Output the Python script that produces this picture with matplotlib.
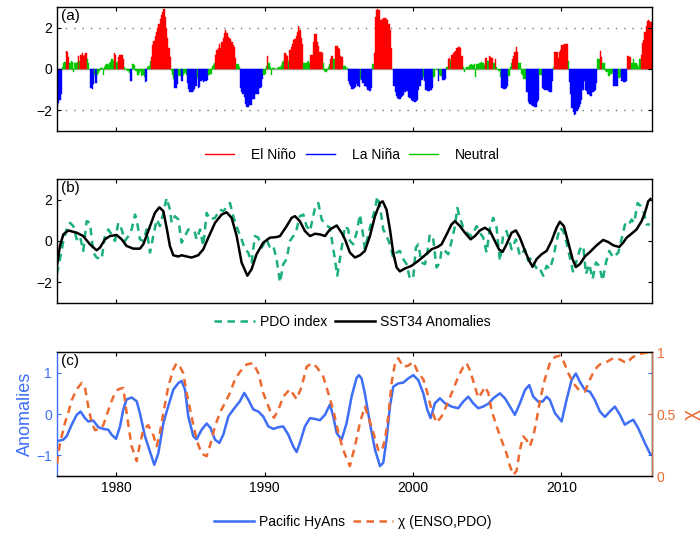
import numpy as np
import matplotlib
matplotlib.use("Agg")
import matplotlib.pyplot as plt
from matplotlib.lines import Line2D

plt.rcParams["font.family"] = ["Liberation Sans", "DejaVu Sans"]

# ---- (a) monthly Nino3.4 anomaly, one row per year from 1976 ----
FIRST_YEAR = 1976
nino34_monthly = [
    [-1.8, -1.65, -1.5, -1.2, 0.1, 0.3, 0.35, 0.85, 0.8, 0.6, 0.3, 0.4],
    [0.35, -0.15, 0.3, 0.3, 0.35, 0.65, 0.4, 0.7, 0.75, 0.65, 0.7, 0.75],
    [0.5, 0.3, 0.0, -0.9, -0.95, -0.75, -0.3, -0.7, -0.3, -0.2, -0.1, 0.05],
    [0.05, -0.3, 0.1, 0.2, 0.25, 0.2, 0.3, 0.35, 0.5, 0.4, 0.75, 0.7],
    [0.35, 0.6, 0.7, 0.7, 0.7, 0.5, 0.1, 0.0, -0.05, -0.1, -0.2, -0.6],
    [-0.6, 0.25, 0.2, -0.1, -0.1, -0.3, -0.2, -0.1, -0.35, -0.3, -0.4, -0.65],
    [-0.6, 0.1, 0.15, 0.4, 0.6, 1.15, 1.35, 1.6, 1.8, 2.0, 2.2, 2.4],
    [2.6, 2.75, 2.9, 2.5, 1.95, 1.5, 1.0, 0.6, -0.1, -0.3, -0.5, -0.9],
    [-0.9, -0.75, -0.3, -0.35, -0.6, -0.6, -0.3, -0.2, -0.3, -0.7, -0.95, -1.1],
    [-1.1, -1.1, -1.05, -0.95, -0.8, -0.45, -0.9, -0.85, -0.6, -0.55, -0.65, -0.6],
    [-0.6, -0.55, -0.3, -0.3, -0.25, 0.15, 0.2, 0.3, 0.7, 0.9, 1.0, 1.2],
    [1.0, 1.3, 1.5, 1.75, 1.9, 1.75, 1.55, 1.5, 1.45, 1.3, 1.15, 1.05],
    [0.55, 0.25, 0.25, 0.1, -0.9, -1.1, -1.2, -1.35, -1.7, -1.85, -1.85, -1.75],
    [-1.75, -1.75, -1.45, -1.45, -1.2, -1.2, -1.2, -0.9, -0.9, -0.85, -0.5, -0.3],
    [-0.25, 0.15, 0.65, 0.3, 0.1, -0.3, 0.05, 0.05, 0.0, 0.0, 0.05, 0.1],
    [0.1, 0.2, 0.35, 0.4, 0.75, 0.7, 0.65, 0.4, 0.9, 1.05, 1.2, 1.4],
    [1.45, 1.6, 1.8, 2.1, 1.9, 1.5, 1.2, 0.3, 0.3, 0.3, 0.35, 0.4],
    [0.3, 0.7, 0.7, 1.3, 1.7, 1.7, 1.3, 1.1, 0.8, 0.8, 0.75, 0.3],
    [-0.1, -0.15, -0.05, 0.1, 0.25, 0.5, 0.65, 0.5, 0.5, 1.1, 1.1, 1.0],
    [0.95, 0.65, 0.6, 0.15, 0.15, 0.15, 0.05, -0.6, -0.75, -0.8, -0.95, -0.95],
    [-0.9, -0.85, -0.75, -0.8, -0.85, -0.5, -0.55, -0.7, -0.8, -0.8, -0.85, -1.0],
    [-1.05, -1.05, -0.9, 0.25, 0.75, 2.5, 2.85, 2.9, 2.85, 2.35, 2.35, 2.4],
    [2.45, 2.45, 2.4, 2.35, 2.2, 1.9, 1.0, 0.0, -0.8, -1.1, -1.3, -1.4],
    [-1.45, -1.43, -1.35, -1.3, -1.25, -1.1, -1.05, -1.05, -1.35, -1.4, -1.5, -1.55],
    [-1.55, -1.6, -1.55, -1.5, -1.0, -0.8, -0.55, -0.55, -0.4, -0.6, -1.0, -1.05],
    [-1.05, -1.05, -1.0, -0.9, -0.4, -0.4, 0.0, -0.05, -0.6, -0.3, -0.35, -0.55],
    [-0.55, -0.55, -0.5, 0.1, 0.5, 0.55, 0.45, 0.7, 0.75, 0.8, 0.85, 1.0],
    [1.05, 1.05, 1.0, 0.65, 0.1, -0.15, 0.0, 0.1, 0.1, 0.2, 0.2, 0.25],
    [0.2, 0.25, -0.4, 0.25, 0.25, 0.3, 0.3, 0.35, 0.3, 0.2, 0.55, 0.55],
    [0.4, 0.65, 0.6, 0.55, 0.55, 0.3, 0.5, 0.1, 0.0, -0.1, -0.4, -0.9],
    [-0.9, -0.95, -0.95, -0.9, -0.8, -0.35, 0.1, 0.3, 0.5, 0.65, 0.8, 1.05],
    [0.8, 0.3, 0.3, -0.25, -0.3, -0.5, -0.5, -1.1, -1.1, -1.6, -1.7, -1.75],
    [-1.8, -1.8, -1.85, -1.85, -1.6, -1.5, -0.3, -0.3, -0.9, -0.95, -1.0, -1.0],
    [-1.0, -1.05, -1.1, -1.1, -0.6, 0.1, 0.8, 0.8, 0.8, 0.55, 0.8, 0.9],
    [1.15, 1.15, 1.2, 1.2, 1.2, 0.4, -0.65, -1.2, -1.9, -2.1, -2.25, -2.2],
    [-2.05, -1.95, -1.85, -1.7, -1.5, -1.0, -0.6, -1.0, -1.05, -1.2, -1.25, -1.3],
    [-1.3, -1.1, -1.05, -1.0, -0.7, 0.5, 0.5, 0.85, 0.6, 0.3, 0.3, -0.1],
    [-0.15, -0.15, -0.35, -0.25, -0.25, -0.2, -0.8, -0.8, -0.8, -0.8, -0.45, -0.4],
    [-0.6, -0.6, -0.65, -0.65, -0.6, 0.65, 0.65, 0.6, 0.3, 0.3, 0.5, 0.3],
    [0.3, 0.2, 0.1, 0.5, 0.7, 1.25, 1.4, 1.8, 2.1, 2.3, 2.35, 2.3],
    [2.25],
]
# E = El Nino, L = La Nina, N = neutral (same layout as above)
enso_phase = [
    "LLLLNNNEEENN", "NNNNNENEEEEE", "NNNLLLNLNNNN", "NNNNNNNNNNEE",
    "NEEEEENNNNNL", "LNNNNNNNNNNL", "LNNNEEEEEEEE", "EEEEEEEENNNL",
    "LLNNLLNNNLLL", "LLLLLNLLLLLL", "LLNNNNNNEEEE", "EEEEEEEEEEEE",
    "ENNNLLLLLLLL", "LLLLLLLLLLLN", "NNENNNNNNNNN", "NNNNEEENEEEE",
    "EEEEEEENNNNN", "NEEEEEEEEEEN", "NNNNNEENNEEE", "EEENNNNLLLLL",
    "LLLLLNLLLLLL", "LLLNEEEEEEEE", "EEEEEEENLLLL", "LLLLLLLLLLLL",
    "LLLLLLLLNLLL", "LLLLNNNNLNNL", "LLLNEENEEEEE", "EEEENNNNNNNN",
    "NNNNNNNNNNEE", "NEEEENENNNNL", "LLLLLNNNEEEE", "ENNNNNNLLLLL",
    "LLLLLLNNLLLL", "LLLLLNEEEEEE", "EEEEENLLLLLL", "LLLLLLLLLLLL",
    "LLLLLNNEENNN", "NNNNNNLLLLNN", "LLLLLEEENNNN", "NNNNEEEEEEEE",
    "E",
]
PHASE_COLORS = {"E": "#ff0000", "L": "#0000ff", "N": "#00c800"}

# ---- (b) SST34 anomalies (smoothed) and PDO index ----
sst_t = [1976.00, 1976.20, 1976.43, 1976.76, 1977.33, 1977.77, 1978.22, 1978.67, 1978.90, 1979.23,
         1979.57, 1980.02, 1980.36, 1980.69, 1981.14, 1981.59, 1981.82, 1982.15, 1982.60, 1982.90,
         1983.17, 1983.39, 1983.61, 1983.84, 1984.18, 1984.40, 1984.74, 1985.07, 1985.52, 1985.86,
         1986.20, 1986.65, 1987.10, 1987.43, 1987.77, 1988.11, 1988.44, 1988.83, 1989.12, 1989.45,
         1989.90, 1990.35, 1990.80, 1991.03, 1991.48, 1991.81, 1992.04, 1992.37, 1992.71, 1993.05,
         1993.39, 1993.72, 1994.06, 1994.40, 1994.85, 1995.18, 1995.41, 1995.74, 1996.08, 1996.42,
         1996.75, 1997.09, 1997.43, 1997.77, 1997.95, 1998.21, 1998.44, 1998.66, 1998.89, 1999.11,
         1999.45, 1999.90, 2000.35, 2000.80, 2001.25, 2001.70, 2001.92, 2002.26, 2002.59, 2002.82,
         2003.16, 2003.49, 2003.88, 2004.17, 2004.50, 2004.84, 2005.18, 2005.51, 2005.81, 2006.03,
         2006.30, 2006.64, 2006.93, 2007.20, 2007.54, 2007.83, 2008.05, 2008.32, 2008.66, 2009.00,
         2009.33, 2009.67, 2009.89, 2010.16, 2010.46, 2010.75, 2010.97, 2011.24, 2011.58, 2011.92,
         2012.37, 2012.81, 2013.15, 2013.49, 2013.89, 2014.16, 2014.39, 2014.72, 2015.06, 2015.40,
         2015.62, 2015.85, 2016.00]
sst_v = [-1.20, -0.24, 0.32, 0.51, 0.40, 0.24, -0.16, -0.45, -0.32, 0.08,
         0.24, 0.29, 0.08, -0.24, -0.37, -0.37, -0.16, 0.48, 1.36, 1.63,
         1.44, 0.64, -0.24, -0.69, -0.75, -0.69, -0.75, -0.80, -0.69, -0.40,
         0.16, 0.88, 1.28, 1.39, 1.12, 0.24, -1.04, -1.68, -1.36, -0.64,
         -0.08, 0.16, 0.19, 0.24, 0.72, 1.12, 1.20, 0.96, 0.48, 0.24,
         0.35, 0.32, 0.24, 0.56, 0.75, 0.40, 0.08, -0.56, -0.80, -0.69,
         -0.48, 0.24, 1.20, 1.84, 1.92, 1.52, 0.56, -0.56, -1.28, -1.47,
         -1.33, -1.20, -0.96, -0.69, -0.40, -0.27, -0.16, 0.32, 0.80, 0.96,
         0.72, 0.40, 0.08, 0.24, 0.51, 0.64, 0.48, 0.00, -0.43, -0.53,
         -0.16, 0.40, 0.51, 0.16, -0.48, -0.96, -1.25, -0.88, -0.64, -0.48,
         0.00, 0.64, 0.93, 0.72, -0.08, -0.88, -1.26, -1.12, -0.75, -0.53,
         -0.21, 0.05, -0.05, -0.21, -0.29, -0.08, 0.16, 0.35, 0.56, 0.96,
         1.36, 1.92, 2.03]

pdo_t = [1976.00, 1976.20, 1976.43, 1976.65, 1976.88, 1977.10, 1977.33, 1977.55, 1977.77, 1978.00,
         1978.22, 1978.45, 1978.67, 1979.01, 1979.23, 1979.46, 1979.68, 1979.91, 1980.13, 1980.36,
         1980.58, 1980.81, 1981.03, 1981.26, 1981.37, 1981.59, 1981.82, 1982.04, 1982.27, 1982.49,
         1982.72, 1982.94, 1983.17, 1983.39, 1983.61, 1983.73, 1983.95, 1984.18, 1984.40, 1984.63,
         1984.85, 1985.07, 1985.30, 1985.41, 1985.64, 1985.86, 1986.09, 1986.31, 1986.65, 1986.98,
         1987.21, 1987.66, 1987.88, 1988.22, 1988.44, 1988.67, 1988.89, 1989.12, 1989.34, 1989.57,
         1989.79, 1990.13, 1990.35, 1990.58, 1990.80, 1991.03, 1991.25, 1991.48, 1991.70, 1991.93,
         1992.15, 1992.37, 1992.60, 1992.82, 1993.05, 1993.39, 1993.61, 1993.84, 1994.06, 1994.40,
         1994.73, 1994.89, 1995.07, 1995.41, 1995.63, 1995.74, 1995.97, 1996.19, 1996.42, 1996.64,
         1996.75, 1997.09, 1997.43, 1997.59, 1997.77, 1997.99, 1998.21, 1998.44, 1998.66, 1998.89,
         1999.11, 1999.34, 1999.56, 1999.79, 2000.01, 2000.19, 2000.35, 2000.57, 2000.80, 2000.96,
         2001.13, 2001.36, 2001.58, 2001.81, 2001.92, 2002.15, 2002.37, 2002.60, 2002.82, 2002.98,
         2003.16, 2003.38, 2003.61, 2003.94, 2004.28, 2004.50, 2004.73, 2004.95, 2005.18, 2005.40,
         2005.63, 2005.85, 2006.08, 2006.30, 2006.64, 2006.93, 2007.20, 2007.54, 2007.76, 2007.99,
         2008.21, 2008.44, 2008.55, 2008.77, 2009.00, 2009.22, 2009.45, 2009.67, 2009.89, 2010.12,
         2010.34, 2010.57, 2010.79, 2011.02, 2011.24, 2011.47, 2011.65, 2011.87, 2012.10, 2012.32,
         2012.55, 2012.77, 2013.00, 2013.22, 2013.49, 2013.83, 2014.05, 2014.28, 2014.50, 2014.72,
         2014.90, 2015.13, 2015.35, 2015.56, 2015.74, 2015.96]
pdo_v = [-1.60, -0.88, 0.00, 0.56, 0.88, 0.72, 0.08, 0.24, -0.48, 0.96,
         0.88, -0.56, -0.80, -0.88, 0.24, 0.56, 0.32, 0.00, 0.88, 0.56,
         0.00, 0.24, 0.56, 1.28, 1.04, 0.08, 0.00, 0.56, -0.56, 0.24,
         1.04, 0.72, 1.36, 2.08, 1.52, 0.88, 1.20, 1.04, -0.08, 0.24,
         0.56, 0.56, 0.40, 0.08, 0.56, -0.24, 1.36, 1.04, 1.12, 1.52,
         1.44, 1.84, 1.20, 0.48, 0.08, -0.40, -0.56, -1.04, 0.24, 0.16,
         -0.32, 0.08, -0.32, -0.24, -0.88, -2.00, -1.12, -0.88, 0.00, 0.24,
         0.56, 1.20, 1.28, 0.72, 0.48, 1.60, 1.84, 1.04, 0.80, 0.64,
         -0.88, -1.68, -0.88, 0.72, 0.56, 0.00, -0.16, 0.40, 1.28, 0.24,
         -0.40, 0.64, 1.52, 2.16, 1.68, 0.56, 0.24, -0.16, -0.80, -0.56,
         -0.48, -0.88, -1.12, -1.84, -1.76, -0.32, -0.16, -1.04, -1.12, -0.56,
         0.32, 0.08, -1.28, -1.04, -0.40, -0.48, -0.64, 0.00, 0.72, 1.60,
         1.12, 0.64, 0.40, 0.24, 0.72, 0.40, 0.16, -0.56, 0.64, 1.12,
         0.64, -0.96, 0.32, 0.48, -0.40, 0.08, -0.72, -0.40, -0.96, -0.80,
         -1.20, -1.44, -1.36, -1.68, -1.20, -1.36, -0.80, 0.00, 0.64, 0.48,
         -0.08, -0.80, -1.52, -0.96, -0.40, -0.24, -1.60, -1.12, -1.84, -1.04,
         -1.20, -1.92, -1.04, -0.48, -0.80, -0.56, 0.08, 0.80, 0.72, 1.04,
         0.88, 1.84, 1.68, 1.36, 0.80, 0.80]

# ---- (c) Pacific hydrological anomalies and chi(ENSO,PDO) ----
hyans_t = [1976.00, 1976.43, 1976.65, 1976.99, 1977.33, 1977.59, 1977.89, 1978.11, 1978.45, 1978.79,
           1979.12, 1979.46, 1979.68, 1979.98, 1980.25, 1980.47, 1980.69, 1981.03, 1981.37, 1981.59,
           1981.93, 1982.27, 1982.56, 1982.83, 1983.17, 1983.50, 1983.84, 1984.18, 1984.40, 1984.63,
           1984.85, 1985.19, 1985.41, 1985.75, 1986.09, 1986.35, 1986.65, 1986.94, 1987.21, 1987.55,
           1987.89, 1988.33, 1988.62, 1988.89, 1989.23, 1989.57, 1989.90, 1990.24, 1990.58, 1990.91,
           1991.25, 1991.59, 1991.93, 1992.15, 1992.37, 1992.71, 1993.05, 1993.39, 1993.72, 1994.06,
           1994.40, 1994.62, 1994.85, 1995.18, 1995.52, 1995.86, 1996.19, 1996.35, 1996.53, 1996.75,
           1997.09, 1997.43, 1997.77, 1997.99, 1998.21, 1998.44, 1998.66, 1999.00, 1999.34, 1999.67,
           2000.01, 2000.35, 2000.69, 2000.96, 2001.18, 2001.47, 2001.81, 2002.15, 2002.59, 2003.04,
           2003.38, 2003.72, 2004.05, 2004.39, 2004.73, 2005.07, 2005.40, 2005.85, 2006.19, 2006.53,
           2006.86, 2007.20, 2007.54, 2007.83, 2008.10, 2008.43, 2008.73, 2009.00, 2009.22, 2009.56,
           2010.01, 2010.34, 2010.68, 2010.97, 2011.24, 2011.58, 2011.92, 2012.25, 2012.59, 2012.93,
           2013.26, 2013.60, 2013.94, 2014.27, 2014.61, 2014.84, 2015.17, 2015.62, 2016.00]
hyans_v = [-0.66, -0.62, -0.54, -0.26, -0.02, 0.06, -0.10, -0.18, -0.16, -0.32,
           -0.36, -0.38, -0.50, -0.60, -0.30, 0.11, 0.35, 0.40, 0.31, 0.02,
           -0.54, -0.91, -1.23, -0.95, -0.22, 0.19, 0.59, 0.75, 0.80, 0.59,
           -0.06, -0.54, -0.61, -0.38, -0.23, -0.34, -0.62, -0.70, -0.50, -0.06,
           0.11, 0.31, 0.51, 0.35, 0.11, 0.06, -0.06, -0.30, -0.36, -0.32,
           -0.30, -0.50, -0.79, -0.92, -0.70, -0.30, -0.10, -0.12, -0.15, -0.02,
           0.23, -0.06, -0.46, -0.62, -0.22, 0.43, 0.87, 0.94, 0.86, 0.50,
           -0.22, -0.86, -1.26, -1.18, -0.62, 0.18, 0.66, 0.74, 0.76, 0.86,
           0.94, 0.82, 0.50, 0.10, -0.10, 0.26, 0.38, 0.26, 0.18, 0.14,
           0.30, 0.42, 0.26, 0.14, 0.18, 0.25, 0.38, 0.50, 0.38, 0.18,
           -0.02, 0.26, 0.58, 0.70, 0.42, 0.30, 0.30, 0.42, 0.34, 0.02,
           -0.18, 0.34, 0.82, 0.98, 0.78, 0.58, 0.54, 0.34, 0.06, -0.07,
           0.06, 0.18, -0.02, -0.26, -0.18, -0.14, -0.34, -0.70, -0.98]

chi_t = [1976.00, 1976.20, 1976.54, 1976.76, 1976.99, 1977.33, 1977.66, 1977.89, 1978.11, 1978.34,
         1978.56, 1978.90, 1979.12, 1979.35, 1979.57, 1979.80, 1980.13, 1980.47, 1980.69, 1981.03,
         1981.37, 1981.59, 1981.82, 1982.15, 1982.49, 1982.72, 1982.94, 1983.17, 1983.50, 1983.84,
         1984.06, 1984.29, 1984.51, 1984.74, 1985.07, 1985.41, 1985.75, 1986.09, 1986.35, 1986.65,
         1986.98, 1987.32, 1987.66, 1988.00, 1988.33, 1988.78, 1989.23, 1989.57, 1989.90, 1990.35,
         1990.62, 1990.91, 1991.25, 1991.70, 1992.15, 1992.49, 1992.82, 1993.16, 1993.50, 1993.95,
         1994.28, 1994.62, 1994.96, 1995.29, 1995.74, 1996.08, 1996.42, 1996.75, 1996.98, 1997.32,
         1997.65, 1997.88, 1998.10, 1998.33, 1998.55, 1998.78, 1999.00, 1999.34, 1999.67, 2000.01,
         2000.35, 2000.69, 2000.96, 2001.25, 2001.58, 2001.92, 2002.26, 2002.71, 2003.04, 2003.38,
         2003.61, 2003.87, 2004.17, 2004.39, 2004.62, 2004.84, 2005.07, 2005.29, 2005.63, 2005.96,
         2006.30, 2006.53, 2006.75, 2006.97, 2007.20, 2007.42, 2007.65, 2007.87, 2008.10, 2008.32,
         2008.55, 2008.88, 2009.22, 2009.56, 2009.89, 2010.16, 2010.46, 2010.79, 2011.13, 2011.58,
         2011.92, 2012.25, 2012.59, 2013.04, 2013.49, 2013.94, 2014.39, 2014.72, 2015.06, 2015.51,
         2015.96]
chi_v = [0.10, 0.26, 0.43, 0.51, 0.61, 0.70, 0.75, 0.71, 0.56, 0.43,
         0.37, 0.38, 0.41, 0.49, 0.57, 0.64, 0.70, 0.71, 0.51, 0.24,
         0.12, 0.26, 0.37, 0.41, 0.33, 0.24, 0.35, 0.51, 0.72, 0.86,
         0.91, 0.88, 0.83, 0.67, 0.48, 0.29, 0.18, 0.16, 0.26, 0.40,
         0.51, 0.59, 0.67, 0.78, 0.84, 0.90, 0.91, 0.83, 0.67, 0.53,
         0.47, 0.53, 0.64, 0.70, 0.62, 0.72, 0.88, 0.91, 0.88, 0.80,
         0.67, 0.53, 0.35, 0.21, 0.08, 0.24, 0.43, 0.56, 0.48, 0.35,
         0.21, 0.20, 0.29, 0.48, 0.75, 0.91, 0.95, 0.88, 0.89, 0.92,
         0.83, 0.78, 0.67, 0.53, 0.43, 0.48, 0.57, 0.70, 0.80, 0.88,
         0.91, 0.84, 0.72, 0.63, 0.67, 0.72, 0.67, 0.53, 0.40, 0.29,
         0.18, 0.08, 0.01, 0.04, 0.21, 0.32, 0.29, 0.24, 0.32, 0.45,
         0.61, 0.78, 0.91, 0.96, 0.97, 0.92, 0.83, 0.75, 0.70, 0.68,
         0.78, 0.86, 0.90, 0.92, 0.95, 0.94, 0.91, 0.95, 0.98, 0.99,
         1.00]

XLIM = (1976.0, 2016.1)
YEAR_TICKS = [1980, 1990, 2000, 2010]
C_PDO = "#1aaf7c"
C_HYANS = "#3d6ef5"
C_CHI = "#ec6a30"


def style_box(ax):
    ax.set_xlim(*XLIM)
    ax.set_xticks(YEAR_TICKS)
    ax.tick_params(direction="in", top=True, right=True, length=3, width=0.8, labelsize=10)
    for s in ax.spines.values():
        s.set_linewidth(1.0)


fig = plt.figure(figsize=(7.0, 5.34), dpi=100)
ax_a = fig.add_axes([0.0814, 0.7547, 0.85, 0.2322])
ax_b = fig.add_axes([0.0814, 0.4326, 0.85, 0.2322])
ax_c = fig.add_axes([0.0814, 0.1086, 0.85, 0.2322])

# ---- (a) ----
vals, cols, times = [], [], []
for i, (row, ph) in enumerate(zip(nino34_monthly, enso_phase)):
    for m, (v, p) in enumerate(zip(row, ph)):
        times.append(FIRST_YEAR + i + m / 12.0)
        vals.append(v)
        cols.append(PHASE_COLORS[p])
ax_a.bar(times, vals, width=1 / 12.0, align="edge", color=cols, edgecolor=cols, linewidth=0.3)
ax_a.axhline(0, color="0.65", lw=1.0, zorder=0)
for yv in (-2, 2):
    ax_a.axhline(yv, color="0.45", lw=1.0, ls=(0, (1, 5)), zorder=0)
style_box(ax_a)
ax_a.set_ylim(-3, 3)
ax_a.set_yticks([-2, 0, 2])
ax_a.set_yticklabels(["\u22122", "0", "2"])
ax_a.tick_params(labelbottom=False)
ax_a.text(0.006, 0.985, "(a)", transform=ax_a.transAxes, va="top", ha="left", fontsize=11)
leg_a = [Line2D([], [], color=PHASE_COLORS[k], lw=1.0) for k in "ELN"]
ax_a.legend(leg_a, ["El Ni\u00f1o", "La Ni\u00f1a", "Neutral"], loc="center",
            bbox_to_anchor=(0.497, -0.19), ncol=3, frameon=False, fontsize=10,
            handlelength=2.1, handletextpad=1.2, columnspacing=0.7)

# ---- (b) ----
ax_b.plot(pdo_t, pdo_v, color=C_PDO, lw=1.8, ls=(0, (3.0, 2.2)), label="PDO index")
ax_b.plot(sst_t, sst_v, color="black", lw=1.8, solid_joinstyle="round", label="SST34 Anomalies")
style_box(ax_b)
ax_b.set_ylim(-3, 3)
ax_b.set_yticks([-2, 0, 2])
ax_b.set_yticklabels(["\u22122", "0", "2"])
ax_b.tick_params(labelbottom=False)
ax_b.text(0.006, 0.985, "(b)", transform=ax_b.transAxes, va="top", ha="left", fontsize=11)
ax_b.legend(loc="center", bbox_to_anchor=(0.497, -0.155), ncol=2, frameon=False, fontsize=10,
            handlelength=2.9, handletextpad=0.35, columnspacing=0.6)

# ---- (c) ----
ax_r = ax_c.twinx()
l1, = ax_c.plot(hyans_t, hyans_v, color=C_HYANS, lw=1.8, solid_joinstyle="round")
l2, = ax_r.plot(chi_t, chi_v, color=C_CHI, lw=1.8, ls=(0, (3.0, 2.2)))
style_box(ax_c)
ax_c.set_ylim(-1.5, 1.5)
ax_c.set_yticks([-1, 0, 1])
ax_c.set_yticklabels(["\u22121", "0", "1"])
ax_c.tick_params(axis="y", colors=C_HYANS, labelcolor=C_HYANS)
ax_c.tick_params(axis="x", top=True, colors="black")
ax_c.spines["left"].set_color(C_HYANS)
ax_c.set_ylabel("Anomalies", color=C_HYANS, fontsize=13, labelpad=2)
ax_r.set_ylim(0, 1)
ax_r.set_yticks([0, 0.5, 1])
ax_r.set_yticklabels(["0", "0.5", "1"])
ax_r.tick_params(direction="in", length=3, width=0.8, labelsize=10, colors=C_CHI, labelcolor=C_CHI)
ax_r.spines["right"].set_color("#c8704a")
ax_r.spines["left"].set_visible(False)
ax_r.set_ylabel("\u03c7", color=C_CHI, fontsize=15, labelpad=4)
ax_c.text(0.006, 0.985, "(c)", transform=ax_c.transAxes, va="top", ha="left", fontsize=11)
ax_c.legend([l1, l2], ["Pacific HyAns", "\u03c7 (ENSO,PDO)"], loc="center",
            bbox_to_anchor=(0.497, -0.37), ncol=2, frameon=False, fontsize=10,
            handlelength=2.9, handletextpad=0.35, columnspacing=0.6)

fig.savefig("out.png", dpi=100)
